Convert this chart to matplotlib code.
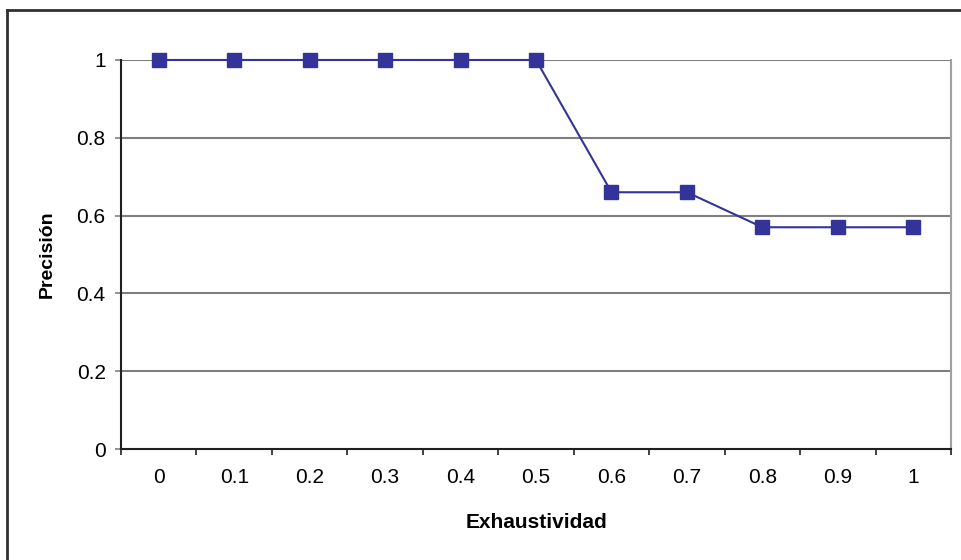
import matplotlib.pyplot as plt
from matplotlib.lines import Line2D

plt.rcParams['font.family'] = ['Liberation Sans', 'DejaVu Sans']

categorias = ["0", "0.1", "0.2", "0.3", "0.4", "0.5", "0.6", "0.7", "0.8", "0.9", "1"]
precision = [1, 1, 1, 1, 1, 1, 0.66, 0.66, 0.57, 0.57, 0.57]
yticks = [0, 0.2, 0.4, 0.6, 0.8, 1]

fig = plt.figure(figsize=(9.62, 5.6), dpi=100)
ax = fig.add_axes([0.1258, 0.1982, 0.8628, 0.6947])

pos = list(range(len(categorias)))
ax.plot(pos, precision, color="#333399", linewidth=1.5, marker="s",
        markersize=9.5, markerfacecolor="#333399", markeredgecolor="#333399",
        zorder=3, clip_on=False)

ax.set_xlim(-0.5, len(categorias) - 0.5)
ax.set_ylim(0, 1)
ax.set_yticks(yticks)
ax.set_yticklabels([f"{v:g}" for v in yticks])
for v in yticks[1:]:
    ax.axhline(v, color="#808080", linewidth=1.5, zorder=1)

ax.set_xticks(pos)
ax.set_xticklabels(categorias)
ax.set_xticks([p - 0.5 for p in pos] + [len(pos) - 0.5], minor=True)
ax.tick_params(axis="x", which="major", length=0, pad=14, labelsize=15)
ax.tick_params(axis="x", which="minor", length=4, width=1.2, color="#202020", direction="out")
ax.tick_params(axis="y", length=4, width=1.2, color="#808080", pad=7, labelsize=15)

ax.spines["top"].set_visible(False)
ax.spines["right"].set_color("#a0a0a0")
ax.spines["right"].set_linewidth(1.5)
ax.spines["left"].set_color("#202020")
ax.spines["bottom"].set_color("#202020")
ax.spines["left"].set_linewidth(1.5)
ax.spines["bottom"].set_linewidth(1.5)

ax.set_xlabel("Exhaustividad", fontsize=15, fontweight="bold", va="center")
ax.set_ylabel("Precisión", fontsize=14, fontweight="bold", va="center")
ax.xaxis.set_label_coords(0.5, -0.188)
ax.yaxis.set_label_coords(-0.089, 0.5)

# outer chart border (only top and left visible in the cropped original)
fig.add_artist(Line2D([7 / 962, 7 / 962], [0, 1 - 10 / 560], transform=fig.transFigure,
                      color="#303030", linewidth=2))
fig.add_artist(Line2D([7 / 962, 1], [1 - 10 / 560, 1 - 10 / 560], transform=fig.transFigure,
                      color="#303030", linewidth=2))

fig.savefig("out.png", dpi=100)
